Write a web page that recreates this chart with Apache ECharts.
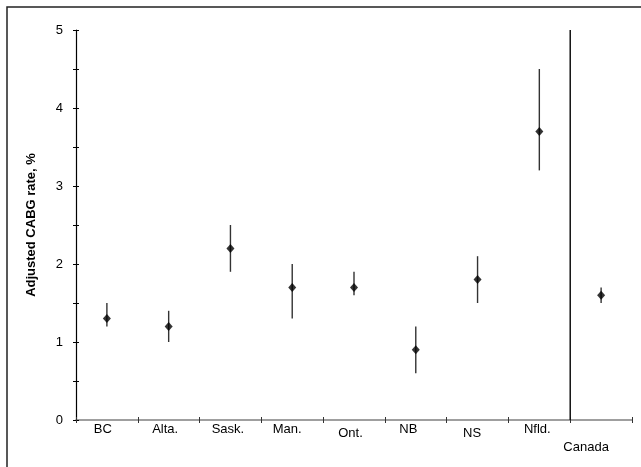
<!DOCTYPE html>
<html>
<head>
<meta charset="utf-8">
<script src="https://cdn.jsdelivr.net/npm/echarts@6/dist/echarts.min.js"></script>
<style>html,body{margin:0;padding:0;background:#fff}#c{width:641px;height:467px}</style>
</head>
<body>
<div id="c"></div>
<script>
const categories = ['BC','Alta.','Sask.','Man.','Ont.','NB','NS','Nfld.','Canada'];
const rates = [1.3,1.2,2.2,1.7,1.7,0.9,1.8,3.7,1.6];
const lower = [1.2,1.0,1.9,1.3,1.6,0.6,1.5,3.2,1.5];
const upper = [1.5,1.4,2.5,2.0,1.9,1.2,2.1,4.5,1.7];
const yTicks = [0,1,2,3,4,5];

const chart = echarts.init(document.getElementById('c'), null, {renderer:'canvas'});
const font = '"Liberation Sans", Arial, sans-serif';

// label placement tweaks (styles only)
const labelRich = {
  a: {padding:[0,8,0,0]}, b: {padding:[0,7,0,0]}, c: {padding:[0,5,0,0]},
  d: {padding:[0,10,0,0]}, e: {padding:[4,7,0,0]}, f: {padding:[0,15,0,0]},
  g: {padding:[4,11,0,0]}, h: {padding:[0,4,0,0]}, i: {padding:[18,30,0,0]}
};
const richKeys = ['a','b','c','d','e','f','g','h','i'];
Object.keys(labelRich).forEach(k => {
  labelRich[k].fontSize = 13; labelRich[k].fontFamily = font; labelRich[k].color = '#000';
});

const errData = categories.map((c, i) => [i, lower[i], upper[i]]);
const ptData = categories.map((c, i) => [i, rates[i]]);
// boundary between the provinces and the national figure
const sepData = [[categories.indexOf('Canada'), yTicks[0], yTicks[yTicks.length-1]]];

chart.setOption({
  animation: false,
  backgroundColor: '#fff',
  graphic: [{
    type: 'rect', shape: {x: 7, y: 7, width: 700, height: 700},
    style: {fill: 'none', stroke: '#222', lineWidth: 1.5}, silent: true
  }],
  grid: {left: 76, right: 9, top: 30, bottom: 47},
  xAxis: [{
    type: 'category', data: categories, boundaryGap: true,
    axisLine: {lineStyle: {color: '#808080', width: 1.5}},
    axisTick: {show: true, length: 3, lineStyle: {color: '#333', width: 1}},
    axisLabel: {
      margin: 3, interval: 0,
      formatter: (v, i) => '{' + richKeys[i] + '|' + v + '}',
      rich: labelRich
    },
    splitLine: {show: false}
  }, {
    type: 'category', data: categories, boundaryGap: true, position: 'bottom',
    axisLine: {show: false},
    axisTick: {show: true, inside: true, length: 3, lineStyle: {color: '#333', width: 1}},
    axisLabel: {show: false}, splitLine: {show: false}
  }, {
    type: 'value', min: 0, max: categories.length, show: false
  }],
  yAxis: [{
    type: 'value', min: yTicks[0], max: yTicks[yTicks.length-1], interval: 1,
    name: 'Adjusted CABG rate, %', nameLocation: 'middle', nameGap: 38, nameRotate: 90,
    nameTextStyle: {fontSize: 13, fontWeight: 'bold', fontFamily: font, color: '#000'},
    axisLine: {show: true, lineStyle: {color: '#000', width: 1.2}},
    axisTick: {show: true, length: 3, lineStyle: {color: '#000', width: 1}},
    minorTick: {show: true, splitNumber: 2, length: 3, lineStyle: {color: '#000', width: 1}},
    axisLabel: {margin: 13, fontSize: 13, fontFamily: font, color: '#000'},
    splitLine: {show: false}
  }, {
    type: 'value', min: yTicks[0], max: yTicks[yTicks.length-1], interval: 1, position: 'left',
    axisLine: {show: false},
    axisTick: {show: true, inside: true, length: 3, lineStyle: {color: '#000', width: 1}},
    minorTick: {show: true, splitNumber: 2, length: 3, lineStyle: {color: '#000', width: 1}},
    axisLabel: {show: false}, splitLine: {show: false}
  }],
  series: [{
    type: 'custom', xAxisIndex: 2, yAxisIndex: 0, data: sepData,
    renderItem: (params, api) => {
      const x = api.value(0);
      const p1 = api.coord([x, api.value(1)]);
      const p2 = api.coord([x, api.value(2)]);
      return {type: 'line', shape: {x1: p1[0], y1: p1[1], x2: p2[0], y2: p2[1]},
        style: {stroke: '#111', lineWidth: 1.5}};
    },
    z: 1
  }, {
    type: 'custom', xAxisIndex: 0, yAxisIndex: 0, data: errData,
    renderItem: (params, api) => {
      const x = api.value(0);
      const p1 = api.coord([x, api.value(1)]);
      const p2 = api.coord([x, api.value(2)]);
      return {type: 'line', shape: {x1: p1[0], y1: p1[1], x2: p2[0], y2: p2[1]},
        style: {stroke: '#333', lineWidth: 1.4}};
    },
    z: 2
  }, {
    type: 'scatter', xAxisIndex: 0, yAxisIndex: 0, data: ptData,
    symbol: 'diamond', symbolSize: [8, 9],
    itemStyle: {color: '#000'}, z: 3
  }]
});
</script>
</body>
</html>
